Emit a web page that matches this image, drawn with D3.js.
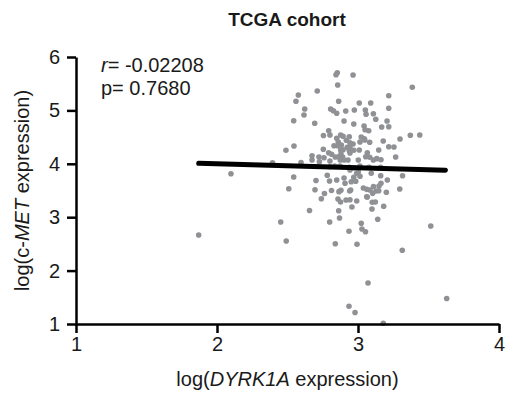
<!DOCTYPE html>
<html>
<head>
<meta charset="utf-8">
<script src="https://cdn.jsdelivr.net/npm/d3@7"></script>
<style>
  body { margin: 0; background: #fff; }
  text { font-family: "Liberation Sans", Arial, sans-serif; }
</style>
</head>
<body>
<div id="chart"></div>
<script>
// DYRK1A (x) vs c-MET (y), log expression
let dyrk1a = [
    1.870, 2.099, 2.394, 2.452, 2.491, 2.489, 2.509, 2.544, 2.546, 2.544,
    2.560, 2.577, 2.596, 2.622, 2.617, 2.656, 2.674, 2.674, 2.693, 2.695,
    2.702, 2.711, 2.723, 2.726, 2.740, 2.755, 2.754, 2.759, 2.762, 2.782,
    2.792, 2.792, 2.799, 2.798, 2.806, 2.801, 2.812, 2.813, 2.825, 2.830,
    2.839, 2.839, 2.844, 2.853, 2.849, 2.849, 2.849, 2.856, 2.856, 2.858,
    2.863, 2.863, 2.865, 2.869, 2.876, 2.874, 2.877, 2.879, 2.879, 2.882,
    2.891, 2.894, 2.894, 2.901, 2.901, 2.901, 2.913, 2.908, 2.915, 2.917,
    2.924, 2.936, 2.936, 2.938, 2.941, 2.943, 2.943, 2.943, 2.943, 2.948,
    2.952, 2.957, 2.965, 2.965, 2.970, 2.970, 2.970, 2.974, 2.979, 2.984,
    2.991, 2.991, 2.993, 3.002, 3.002, 3.009, 3.014, 3.014, 3.023, 3.023,
    3.028, 3.038, 3.043, 3.045, 3.050, 3.052, 3.053, 3.057, 3.062, 3.062,
    3.066, 3.066, 3.071, 3.076, 3.083, 3.083, 3.085, 3.090, 3.094, 3.099,
    3.101, 3.104, 3.109, 3.109, 3.110, 3.123, 3.126, 3.128, 3.140, 3.147,
    3.147, 3.149, 3.161, 3.163, 3.163, 3.168, 3.179, 3.179, 3.182, 3.201,
    3.208, 3.218, 3.218, 3.218, 3.218, 3.255, 3.267, 3.296, 3.298, 3.316,
    3.314, 3.371, 3.385, 3.438, 3.516, 3.629,
    3.206, 2.801, 2.860, 2.943, 3.048, 2.877, 2.938, 3.009, 2.863, 2.929,
    3.055, 3.133, 2.801, 2.835, 2.872, 2.938, 2.972, 3.014, 3.078, 3.161
]
let cmet = [
    2.667, 3.815, 4.021, 2.910, 2.554, 4.253, 3.534, 3.753, 4.333, 4.807,
    5.170, 5.288, 4.024, 5.026, 4.914, 3.125, 4.152, 4.071, 4.758, 3.515,
    3.687, 5.363, 4.127, 4.039, 3.346, 4.530, 4.272, 4.114, 3.444, 3.785,
    4.620, 4.208, 2.910, 3.678, 5.026, 4.052, 3.500, 4.178, 4.994, 4.339,
    4.127, 2.504, 5.669, 5.706, 4.946, 4.478, 3.697, 5.476, 4.339, 3.341,
    5.170, 3.122, 3.478, 2.985, 3.285, 4.071, 4.539, 4.184, 3.504, 4.352,
    4.127, 4.515, 4.264, 4.801, 4.071, 3.734, 4.989, 3.635, 3.322, 4.440,
    4.309, 2.736, 1.331, 4.507, 3.491, 4.320, 4.202, 3.884, 3.328, 3.509,
    3.665, 3.191, 5.663, 4.371, 4.745, 4.253, 3.747, 5.007, 1.215, 3.672,
    3.822, 3.303, 2.493, 4.071, 3.846, 5.139, 4.408, 3.766, 4.502, 2.886,
    2.779, 3.547, 4.708, 4.470, 4.639, 5.007, 2.728, 4.927, 3.522, 3.384,
    4.208, 3.378, 1.768, 4.620, 4.403, 4.122, 3.509, 5.139, 3.822, 3.154,
    3.279, 3.448, 4.938, 4.071, 3.575, 3.285, 4.833, 3.491, 2.961, 4.258,
    3.496, 3.584, 3.777, 4.077, 3.635, 4.689, 4.427, 1.013, 3.204, 3.466,
    3.697, 5.275, 5.039, 4.695, 4.320, 4.315, 4.127, 3.528, 4.464, 3.777,
    2.380, 4.534, 5.433, 4.539, 2.835, 1.478,
    4.801, 4.539, 4.408, 4.395, 4.446, 4.258, 4.245, 4.258, 4.133, 4.071,
    4.133, 4.096, 3.946, 3.959, 3.959, 3.934, 3.921, 3.959, 3.934, 3.934
]
// regression line end points
let fitX = [1.87, 3.62]
let fitY = [4.01, 3.88]

let xTicks = [1, 2, 3, 4]
let yTicks = [1, 2, 3, 4, 5, 6]
let statR = "-0.02208"
let statP = "0.7680"

let points = dyrk1a.map(function(d, i) { return { x: d, y: cmet[i] } })
let fit = fitX.map(function(d, i) { return { x: d, y: fitY[i] } })

let margin = { top: 57, right: 8, bottom: 75, left: 76 }
let width = 507 - margin.left - margin.right,
    height = 399 - margin.top - margin.bottom

let svg = d3.select("#chart").append("svg")
    .attr("width", 507)
    .attr("height", 399)

let g = svg.append("g")
    .attr("transform", "translate(" + margin.left + "," + margin.top + ")")

let x = d3.scaleLinear().domain([1, 4]).range([0, width])
let y = d3.scaleLinear().domain([1, 6]).range([height, 0])

// dots
g.append("g").selectAll("circle")
    .data(points)
    .enter()
    .append("circle")
    .attr("cx", function(d) { return x(d.x) })
    .attr("cy", function(d) { return y(d.y) })
    .attr("r", 2.8)
    .attr("fill", "#8f9195")

// fit line
let line = d3.line()
    .x(function(d) { return x(d.x) })
    .y(function(d) { return y(d.y) })

g.append("path")
    .datum(fit)
    .attr("fill", "none")
    .attr("stroke", "#000")
    .attr("stroke-width", 5)
    .attr("stroke-linecap", "round")
    .attr("d", line)

// axes
let xAx = g.append("g")
    .attr("transform", "translate(0," + height + ")")
    .call(d3.axisBottom(x).tickValues(xTicks).tickFormat(d3.format("d")).tickSize(9).tickSizeOuter(0).tickPadding(4))

let yAx = g.append("g")
    .call(d3.axisLeft(y).tickValues(yTicks).tickFormat(d3.format("d")).tickSize(9).tickSizeOuter(0).tickPadding(7))

for (let ax of [xAx, yAx]) {
    ax.select(".domain").attr("stroke-width", 2.5)
    ax.selectAll(".tick line").attr("stroke-width", 2.5)
    ax.selectAll(".tick text")
        .style("font-size", "20px")
        .style("font-family", "'Liberation Sans', Arial, sans-serif")
        .attr("fill", "#1a1a1a")
}

// title
svg.append("text")
    .attr("x", 287)
    .attr("y", 26)
    .attr("text-anchor", "middle")
    .style("font-size", "19px")
    .style("font-weight", "bold")
    .attr("fill", "#1a1a1a")
    .text("TCGA cohort")

// stats
let rText = svg.append("text")
    .attr("x", 101)
    .attr("y", 72)
    .style("font-size", "20px")
    .attr("fill", "#1a1a1a")
rText.append("tspan").style("font-style", "italic").text("r")
rText.append("tspan").text("= " + statR)

svg.append("text")
    .attr("x", 101)
    .attr("y", 95)
    .style("font-size", "20px")
    .attr("fill", "#1a1a1a")
    .text("p= " + statP)

// axis titles
let xLabel = svg.append("text")
    .attr("x", margin.left + width / 2)
    .attr("y", 386)
    .attr("text-anchor", "middle")
    .style("font-size", "20px")
    .attr("fill", "#1a1a1a")
xLabel.append("tspan").text("log(")
xLabel.append("tspan").style("font-style", "italic").text("DYRK1A")
xLabel.append("tspan").text(" expression)")

let yLabel = svg.append("text")
    .attr("transform", "translate(29," + (margin.top + height / 2) + ")rotate(-90)")
    .attr("text-anchor", "middle")
    .style("font-size", "20px")
    .attr("fill", "#1a1a1a")
yLabel.append("tspan").text("log(c-")
yLabel.append("tspan").style("font-style", "italic").text("MET")
yLabel.append("tspan").text(" expression)")
</script>
</body>
</html>
